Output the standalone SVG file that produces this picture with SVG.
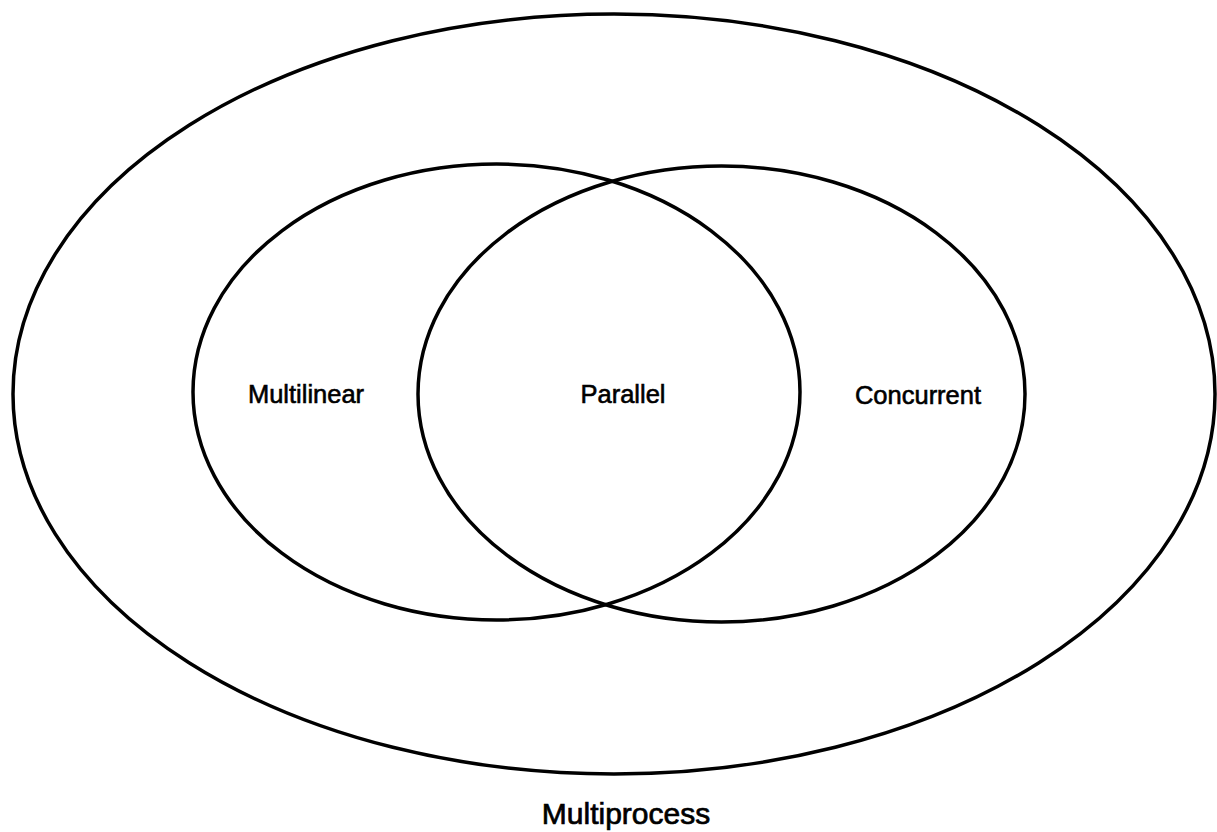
<svg xmlns="http://www.w3.org/2000/svg" width="1217" height="832" viewBox="0 0 1217 832">
  <style>
    .set { fill: none; stroke: #000; stroke-width: 3.5; }
    .label { font-family: "Liberation Sans", Arial, sans-serif; font-size: 25.5px; fill: #000; stroke: #000; stroke-width: 0.6; text-anchor: middle; }
    .outer-label { font-size: 30px; stroke-width: 0.7; }
  </style>
  <rect width="1217" height="832" fill="#fff"/>
  <g id="multiprocess">
    <ellipse class="set" cx="614" cy="394" rx="601" ry="380"/>
    <text class="label outer-label" x="626" y="824">Multiprocess</text>
  </g>
  <g id="multilinear">
    <ellipse class="set" cx="496.5" cy="392" rx="303.5" ry="228"/>
    <text class="label" x="306" y="403">Multilinear</text>
  </g>
  <g id="concurrent">
    <ellipse class="set" cx="721.5" cy="394" rx="303.5" ry="228"/>
    <text class="label" x="918" y="404">Concurrent</text>
  </g>
  <g id="parallel">
    <text class="label" x="623" y="403">Parallel</text>
  </g>
  <g id="connectors"/>
</svg>
